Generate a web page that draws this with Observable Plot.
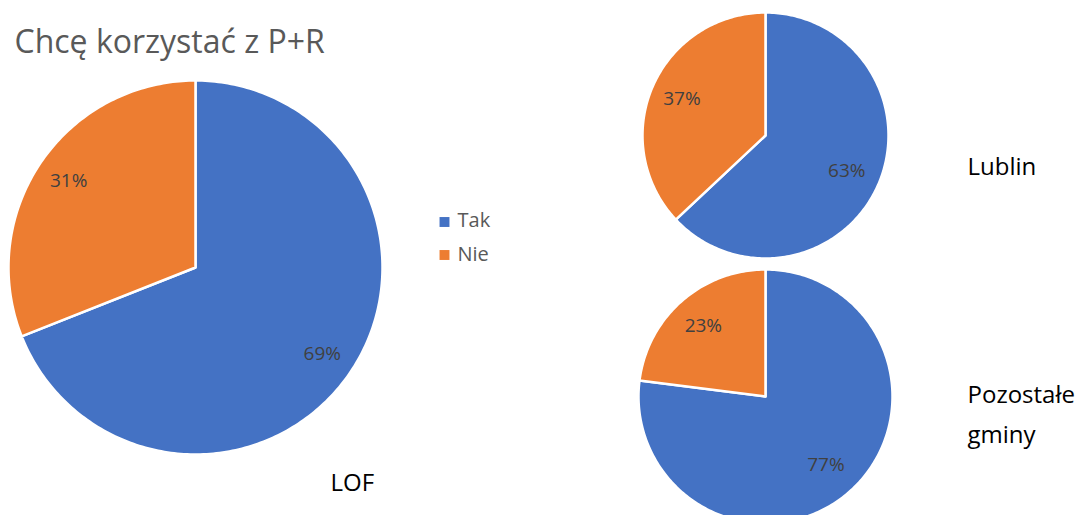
<!DOCTYPE html>
<html><head><meta charset="utf-8">
<script src="https://cdn.jsdelivr.net/npm/d3@7"></script>
<script src="https://cdn.jsdelivr.net/npm/@observablehq/plot@0.6"></script>
<style>html,body{margin:0;padding:0;background:#fff;overflow:hidden}</style>
</head><body><div id="chart"></div>
<script>
// ---- data ----
const title = "Chcę korzystać z P+R";
const categories = ["Tak", "Nie"];
const groups = ["LOF", "Lublin", "Pozostałe gminy"];
const groupLabelLines = [["LOF"], ["Lublin"], ["Pozostałe", "gminy"]];
const takValues = [69, 63, 77];
const nieValues = [31, 37, 23];
const colors = ["#4472C4", "#ED7D31"];

// ---- layout (pixel units) ----
const W = 1084, H = 515;
const pies = [
  {cx: 195, cy: 267, r: 187, lf: [0.82, 0.82], lx: 330, ly: 490},
  {cx: 765, cy: 135, r: 123, lf: [0.72, 0.74], lx: 967, ly: 174},
  {cx: 765, cy: 396, r: 127, lf: [0.72, 0.74], lx: 967, ly: 402}
];

const slicePts = [];
const pctLabels = [];
const groupLabels = [];
groups.forEach((g, gi) => {
  const vals = [takValues[gi], nieValues[gi]];
  const arcs = d3.pie().sort(null).value(d => d)(vals);
  const P = pies[gi];
  arcs.forEach((a, ci) => {
    const id = g + "-" + categories[ci];
    slicePts.push({id, cat: categories[ci], x: P.cx, y: P.cy});
    const n = Math.max(2, Math.ceil((a.endAngle - a.startAngle) / (Math.PI / 180)));
    for (let k = 0; k <= n; k++) {
      const t = a.startAngle + (a.endAngle - a.startAngle) * k / n;
      slicePts.push({id, cat: categories[ci], x: P.cx + P.r * Math.sin(t), y: P.cy - P.r * Math.cos(t)});
    }
    const m = (a.startAngle + a.endAngle) / 2;
    const rr = P.r * P.lf[ci];
    pctLabels.push({text: vals[ci] + "%", x: P.cx + rr * Math.sin(m), y: P.cy - rr * Math.cos(m)});
  });
  groupLabelLines[gi].forEach((line, li) => {
    groupLabels.push({text: line, x: P.lx, y: P.ly + li * 40});
  });
});

const chart = Plot.plot({
  width: W, height: H,
  margin: 0,
  x: {domain: [0, W], range: [0, W], axis: null},
  y: {domain: [0, H], range: [0, H], axis: null},
  color: {domain: categories, range: colors},
  style: {fontFamily: "'Open Sans', sans-serif", background: "#fff"},
  marks: [
    Plot.line(slicePts, {x: "x", y: "y", z: "id", fill: "cat", stroke: "white", strokeWidth: 2.5, curve: "linear-closed"}),
    Plot.text(pctLabels, {x: "x", y: "y", text: "text", fill: "#404040", fontSize: 19, textAnchor: "middle"}),
    Plot.text([title], {x: () => 14, y: () => 52, text: d => d, fill: "#595959", fontSize: 32, textAnchor: "start", lineAnchor: "bottom"}),
    Plot.dot(categories, {x: () => 444, y: (d, i) => 221.5 + i * 33, symbol: "square", r: 5.6, fill: d => d}),
    Plot.text(categories, {x: () => 457, y: (d, i) => 226 + i * 34, text: d => d, fill: "#595959", fontSize: 20, textAnchor: "start", lineAnchor: "bottom"}),
    Plot.text(groupLabels, {x: "x", y: "y", text: "text", fill: "#000", fontSize: 24, textAnchor: "start", lineAnchor: "bottom"})
  ]
});
document.getElementById("chart").appendChild(chart);
</script>
</body></html>
